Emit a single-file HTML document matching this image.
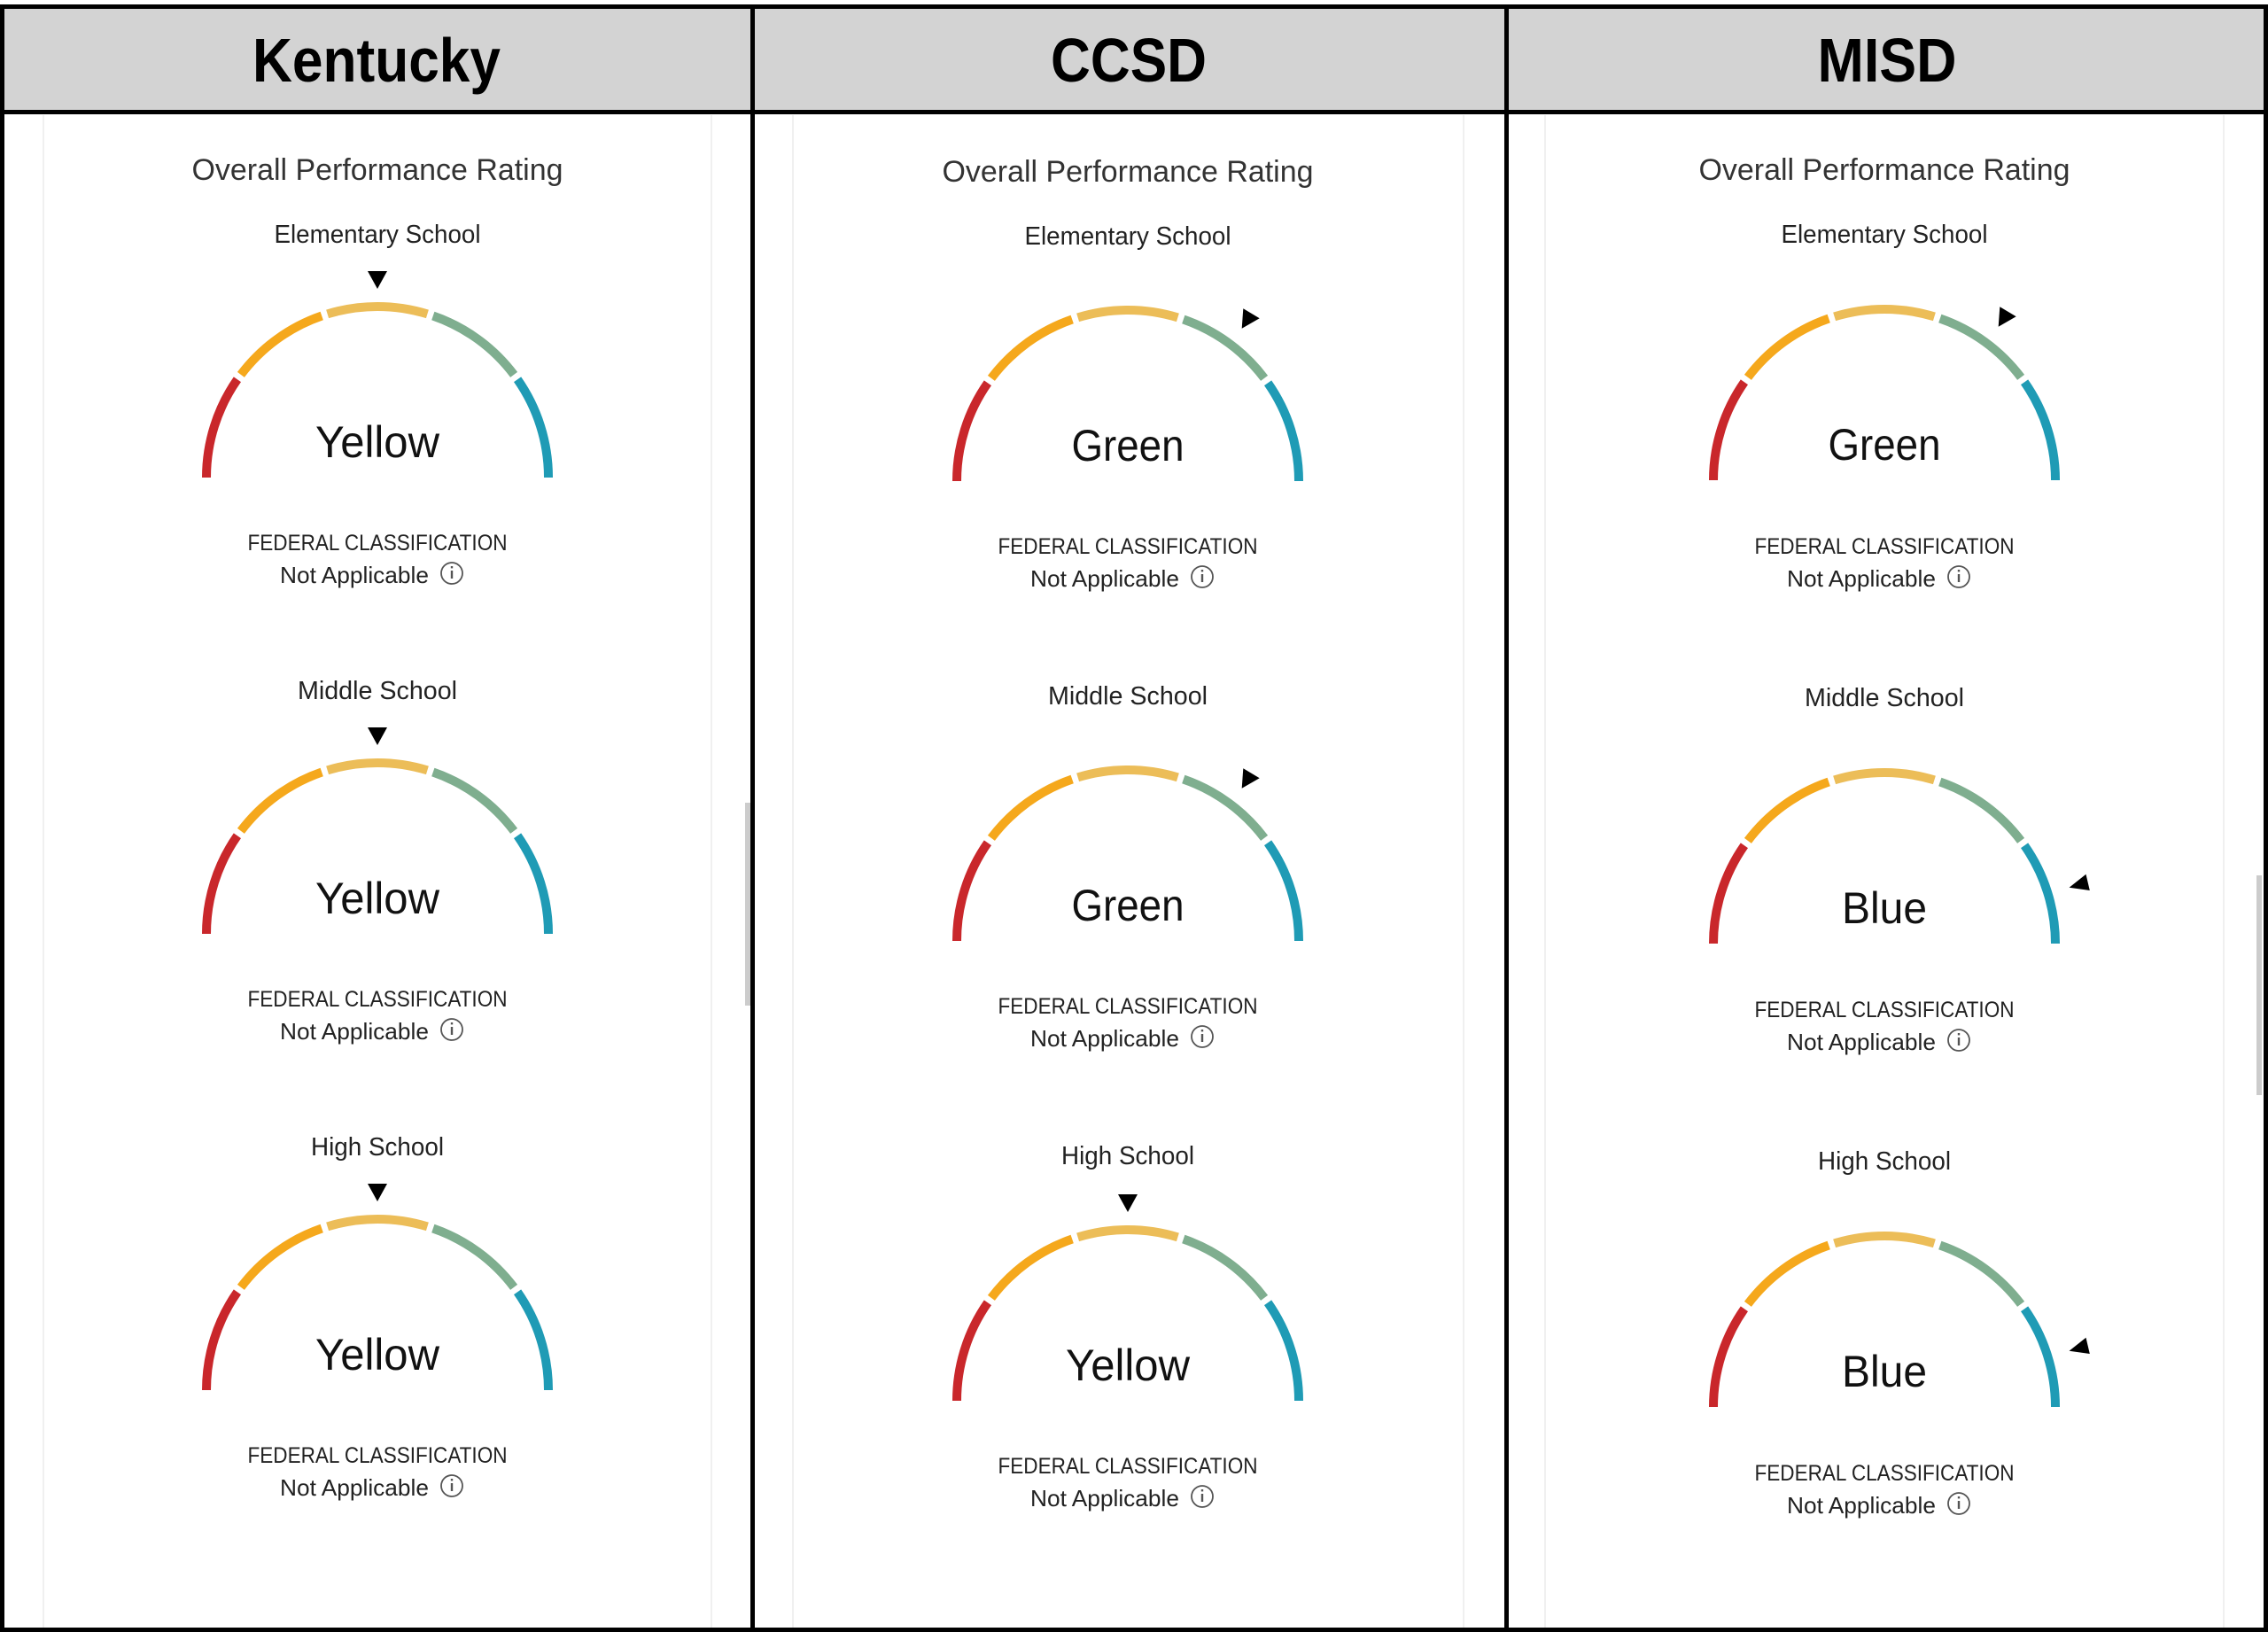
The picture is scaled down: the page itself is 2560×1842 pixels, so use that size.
<!DOCTYPE html>
<html><head><meta charset="utf-8"><style>
html,body{margin:0;padding:0;background:#fff;}
svg{display:block;}
text{font-family:"Liberation Sans",sans-serif;}
</style></head><body>
<svg width="2560" height="1842" viewBox="0 0 2560 1842" xmlns="http://www.w3.org/2000/svg">
<defs>
<g id="g">
<path d="M-193,0 A193,193 0 0 1 -158.1,-110.7" stroke="#c9272b" stroke-width="10" fill="none"/>
<path d="M-154.1,-116.1 A193,193 0 0 1 -62.8,-182.5" stroke="#f5a81c" stroke-width="10" fill="none"/>
<path d="M-56.4,-184.6 A193,193 0 0 1 56.4,-184.6" stroke="#ecbd58" stroke-width="10" fill="none"/>
<path d="M62.8,-182.5 A193,193 0 0 1 154.1,-116.1" stroke="#7fae8f" stroke-width="10" fill="none"/>
<path d="M158.1,-110.7 A193,193 0 0 1 193,0" stroke="#1f9bb5" stroke-width="10" fill="none"/>
</g>
<g id="info"><circle cx="0" cy="0" r="12" fill="none" stroke="#555" stroke-width="1.8"/><rect x="-1.2" y="-3" width="2.4" height="9" fill="#555"/><rect x="-1.2" y="-8" width="2.4" height="2.4" fill="#555"/></g>
</defs>
<rect width="2560" height="1842" fill="#fff"/>
<rect x="0" y="7" width="2560" height="120" fill="#d3d3d3"/>
<g stroke="#f0f0f0" stroke-width="2">
<line x1="49" y1="130" x2="49" y2="1837"/><line x1="803" y1="130" x2="803" y2="1837"/>
<line x1="895" y1="130" x2="895" y2="1837"/><line x1="1652" y1="130" x2="1652" y2="1837"/>
<line x1="1744" y1="130" x2="1744" y2="1837"/><line x1="2510" y1="130" x2="2510" y2="1837"/>
</g>
<rect x="841" y="906" width="6" height="229" fill="#ccc"/>
<rect x="2547" y="988" width="6" height="248" fill="#ccc"/>
<g fill="#000">
<rect x="0" y="5" width="2560" height="5"/>
<rect x="0" y="124" width="2560" height="5"/>
<rect x="0" y="1837" width="2560" height="5"/>
<rect x="0" y="5" width="5" height="1837"/>
<rect x="2555" y="5" width="5" height="1837"/>
<rect x="847" y="5" width="5" height="1837"/>
<rect x="1698" y="5" width="5" height="1837"/>
</g>
<g font-weight="bold" font-size="70" text-anchor="middle" fill="#000">
<text x="425" y="92" textLength="280" lengthAdjust="spacingAndGlyphs">Kentucky</text>
<text x="1274" y="92" textLength="176" lengthAdjust="spacingAndGlyphs">CCSD</text>
<text x="2130" y="92" textLength="157" lengthAdjust="spacingAndGlyphs">MISD</text>
</g>
<g text-anchor="middle" fill="#333" font-size="34">
<text x="426" y="203" textLength="419" lengthAdjust="spacingAndGlyphs">Overall Performance Rating</text>
<text x="1273" y="205" textLength="419" lengthAdjust="spacingAndGlyphs">Overall Performance Rating</text>
<text x="2127" y="203" textLength="419" lengthAdjust="spacingAndGlyphs">Overall Performance Rating</text>
</g>

<g transform="translate(426,274)">
<text x="0" y="0" text-anchor="middle" font-size="29" fill="#222" textLength="233" lengthAdjust="spacingAndGlyphs">Elementary School</text>
<polygon points="-11,32 11,32 0,52" fill="#000"/>
<use href="#g" transform="translate(0,265)"/>
<text x="0" y="242" text-anchor="middle" font-size="50" fill="#111" textLength="140" lengthAdjust="spacingAndGlyphs">Yellow</text>
<text x="0" y="347" text-anchor="middle" font-size="25" fill="#222" textLength="293" lengthAdjust="spacingAndGlyphs">FEDERAL CLASSIFICATION</text>
<text x="-26" y="384" text-anchor="middle" font-size="26" fill="#222" textLength="168" lengthAdjust="spacingAndGlyphs">Not Applicable</text>
<use href="#info" transform="translate(84,373)"/>
</g>
<g transform="translate(426,789)">
<text x="0" y="0" text-anchor="middle" font-size="29" fill="#222" textLength="180" lengthAdjust="spacingAndGlyphs">Middle School</text>
<polygon points="-11,32 11,32 0,52" fill="#000"/>
<use href="#g" transform="translate(0,265)"/>
<text x="0" y="242" text-anchor="middle" font-size="50" fill="#111" textLength="140" lengthAdjust="spacingAndGlyphs">Yellow</text>
<text x="0" y="347" text-anchor="middle" font-size="25" fill="#222" textLength="293" lengthAdjust="spacingAndGlyphs">FEDERAL CLASSIFICATION</text>
<text x="-26" y="384" text-anchor="middle" font-size="26" fill="#222" textLength="168" lengthAdjust="spacingAndGlyphs">Not Applicable</text>
<use href="#info" transform="translate(84,373)"/>
</g>
<g transform="translate(426,1304)">
<text x="0" y="0" text-anchor="middle" font-size="29" fill="#222" textLength="150" lengthAdjust="spacingAndGlyphs">High School</text>
<polygon points="-11,32 11,32 0,52" fill="#000"/>
<use href="#g" transform="translate(0,265)"/>
<text x="0" y="242" text-anchor="middle" font-size="50" fill="#111" textLength="140" lengthAdjust="spacingAndGlyphs">Yellow</text>
<text x="0" y="347" text-anchor="middle" font-size="25" fill="#222" textLength="293" lengthAdjust="spacingAndGlyphs">FEDERAL CLASSIFICATION</text>
<text x="-26" y="384" text-anchor="middle" font-size="26" fill="#222" textLength="168" lengthAdjust="spacingAndGlyphs">Not Applicable</text>
<use href="#info" transform="translate(84,373)"/>
</g>

<g transform="translate(1273,276)">
<text x="0" y="0" text-anchor="middle" font-size="29" fill="#222" textLength="233" lengthAdjust="spacingAndGlyphs">Elementary School</text>
<polygon points="148.7,83.3 130.3,72.3 128.7,94.7" fill="#000"/>
<use href="#g" transform="translate(0,267)"/>
<text x="0" y="244" text-anchor="middle" font-size="50" fill="#111" textLength="127" lengthAdjust="spacingAndGlyphs">Green</text>
<text x="0" y="349" text-anchor="middle" font-size="25" fill="#222" textLength="293" lengthAdjust="spacingAndGlyphs">FEDERAL CLASSIFICATION</text>
<text x="-26" y="386" text-anchor="middle" font-size="26" fill="#222" textLength="168" lengthAdjust="spacingAndGlyphs">Not Applicable</text>
<use href="#info" transform="translate(84,375)"/>
</g>
<g transform="translate(1273,795)">
<text x="0" y="0" text-anchor="middle" font-size="29" fill="#222" textLength="180" lengthAdjust="spacingAndGlyphs">Middle School</text>
<polygon points="148.7,83.3 130.3,72.3 128.7,94.7" fill="#000"/>
<use href="#g" transform="translate(0,267)"/>
<text x="0" y="244" text-anchor="middle" font-size="50" fill="#111" textLength="127" lengthAdjust="spacingAndGlyphs">Green</text>
<text x="0" y="349" text-anchor="middle" font-size="25" fill="#222" textLength="293" lengthAdjust="spacingAndGlyphs">FEDERAL CLASSIFICATION</text>
<text x="-26" y="386" text-anchor="middle" font-size="26" fill="#222" textLength="168" lengthAdjust="spacingAndGlyphs">Not Applicable</text>
<use href="#info" transform="translate(84,375)"/>
</g>
<g transform="translate(1273,1314)">
<text x="0" y="0" text-anchor="middle" font-size="29" fill="#222" textLength="150" lengthAdjust="spacingAndGlyphs">High School</text>
<polygon points="-11,34 11,34 0,54" fill="#000"/>
<use href="#g" transform="translate(0,267)"/>
<text x="0" y="244" text-anchor="middle" font-size="50" fill="#111" textLength="140" lengthAdjust="spacingAndGlyphs">Yellow</text>
<text x="0" y="349" text-anchor="middle" font-size="25" fill="#222" textLength="293" lengthAdjust="spacingAndGlyphs">FEDERAL CLASSIFICATION</text>
<text x="-26" y="386" text-anchor="middle" font-size="26" fill="#222" textLength="168" lengthAdjust="spacingAndGlyphs">Not Applicable</text>
<use href="#info" transform="translate(84,375)"/>
</g>

<g transform="translate(2127,274)">
<text x="0" y="0" text-anchor="middle" font-size="29" fill="#222" textLength="233" lengthAdjust="spacingAndGlyphs">Elementary School</text>
<polygon points="148.7,83.3 130.3,72.3 128.7,94.7" fill="#000"/>
<use href="#g" transform="translate(0,268)"/>
<text x="0" y="245" text-anchor="middle" font-size="50" fill="#111" textLength="127" lengthAdjust="spacingAndGlyphs">Green</text>
<text x="0" y="351" text-anchor="middle" font-size="25" fill="#222" textLength="293" lengthAdjust="spacingAndGlyphs">FEDERAL CLASSIFICATION</text>
<text x="-26" y="388" text-anchor="middle" font-size="26" fill="#222" textLength="168" lengthAdjust="spacingAndGlyphs">Not Applicable</text>
<use href="#info" transform="translate(84,377)"/>
</g>
<g transform="translate(2127,797)">
<text x="0" y="0" text-anchor="middle" font-size="29" fill="#222" textLength="180" lengthAdjust="spacingAndGlyphs">Middle School</text>
<polygon points="227.5,189.7 208.6,204.7 231.8,208" fill="#000"/>
<use href="#g" transform="translate(0,268)"/>
<text x="0" y="245" text-anchor="middle" font-size="50" fill="#111" textLength="96" lengthAdjust="spacingAndGlyphs">Blue</text>
<text x="0" y="351" text-anchor="middle" font-size="25" fill="#222" textLength="293" lengthAdjust="spacingAndGlyphs">FEDERAL CLASSIFICATION</text>
<text x="-26" y="388" text-anchor="middle" font-size="26" fill="#222" textLength="168" lengthAdjust="spacingAndGlyphs">Not Applicable</text>
<use href="#info" transform="translate(84,377)"/>
</g>
<g transform="translate(2127,1320)">
<text x="0" y="0" text-anchor="middle" font-size="29" fill="#222" textLength="150" lengthAdjust="spacingAndGlyphs">High School</text>
<polygon points="227.5,189.7 208.6,204.7 231.8,208" fill="#000"/>
<use href="#g" transform="translate(0,268)"/>
<text x="0" y="245" text-anchor="middle" font-size="50" fill="#111" textLength="96" lengthAdjust="spacingAndGlyphs">Blue</text>
<text x="0" y="351" text-anchor="middle" font-size="25" fill="#222" textLength="293" lengthAdjust="spacingAndGlyphs">FEDERAL CLASSIFICATION</text>
<text x="-26" y="388" text-anchor="middle" font-size="26" fill="#222" textLength="168" lengthAdjust="spacingAndGlyphs">Not Applicable</text>
<use href="#info" transform="translate(84,377)"/>
</g>
</svg>
</body></html>
